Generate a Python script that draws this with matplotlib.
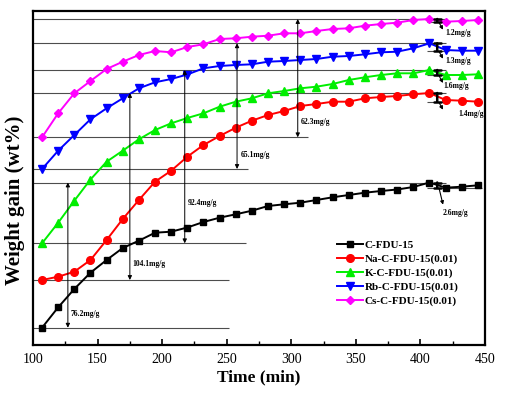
import matplotlib
matplotlib.use("Agg")
import matplotlib.pyplot as plt
import numpy as np

# time axis (min) and weight gain curves (arbitrary units)
times = [107, 119.5, 132, 144.5, 157, 169.5, 182, 194.5, 207, 219.5, 232, 244.5, 257, 269.5,
         282, 294.5, 307, 319.5, 332, 344.5, 357, 369.5, 382, 394.5, 407, 419.5, 432, 444.5]

c_fdu = [17.3, 37.7, 56, 72.3, 85, 97, 104.3, 112.3, 113.3, 117.5, 123, 127.3, 130.7, 134.3,
         139, 140.7, 142.3, 145, 147.7, 150, 152.3, 154, 155.5, 158, 162.5, 157.3, 158.3, 159.7]
na_fdu = [65, 68.3, 73.3, 85, 105, 126, 145, 163.3, 174.3, 188.3, 200, 209, 217.3, 224.3,
          230, 234, 239, 241, 243.3, 243.3, 246.7, 248, 249, 250.7, 252, 245, 244.3, 243.3]
k_fdu = [101.7, 122.3, 144.3, 165.5, 183.3, 194.3, 205.7, 215, 221.7, 227, 231.7, 238.3, 243.3, 246.7,
         251.7, 254, 256.7, 258.3, 261, 265, 267.7, 270, 271.7, 271.7, 275, 270, 270, 270.7]
rb_fdu = [176, 194.3, 210, 225.7, 236.7, 246.7, 256.7, 262.7, 266, 270.5, 276.7, 279, 280, 280.7,
          283.3, 284, 285, 286, 288.3, 289, 290.7, 292.7, 293.3, 296.7, 301.7, 295, 294.3, 294.3]
cs_fdu = [207.7, 231.7, 251.7, 264, 276, 283.3, 290, 294, 292.7, 298, 300.7, 306, 306.7, 308.3,
          309.3, 311.7, 311.7, 314, 316, 316.7, 319.3, 321, 322.3, 325, 326, 323.3, 324, 325]

labels = ["C-FDU-15", "Na-C-FDU-15(0.01)", "K-C-FDU-15(0.01)", "Rb-C-FDU-15(0.01)", "Cs-C-FDU-15(0.01)"]
total_gain = ["76.2mg/g", "104.1mg/g", "92.4mg/g", "65.1mg/g", "62.3mg/g"]
end_loss = ["2.6mg/g", "1.4mg/g", "1.6mg/g", "1.3mg/g", "1.2mg/g"]

series = [c_fdu, na_fdu, k_fdu, rb_fdu, cs_fdu]
colors = ["black", "#ff0000", "#00ee00", "#0000ff", "#ff00ff"]
markers = ["s", "o", "^", "v", "D"]
msizes = [5, 5.5, 5.5, 5.5, 4.5]

# layout of the annotations (x in min)
arrow_x = [127, 175, 217.5, 258, 305]
start_line_end = [252, 252, 265, 266.5, 313]
label_pos = [(129, 31), (177, 81), (220, 142), (261, 190), (307.5, 223)]
small_label_pos = [(427, 132), (439, 231), (428, 259), (429, 284), (429, 312)]

plt.rcParams["font.family"] = ["Liberation Serif", "DejaVu Serif"]

fig = plt.figure(figsize=(5.05, 3.93), dpi=100)
ax = fig.add_axes([33 / 505, 48 / 393, 452 / 505, 334 / 393])

for vals, col, mk, ms, lab in zip(series, colors, markers, msizes, labels):
    ax.plot(times, vals, color=col, marker=mk, markersize=ms, lw=1.4, label=lab, zorder=3)

line_col = "0.3"
x_I = 413
for i, vals in enumerate(series):
    vals = np.array(vals)
    imax = int(np.argmax(vals))
    vmax = vals[imax]
    vlow = vals[imax:].min()
    v0 = vals[0]
    # reference lines
    ax.hlines(vmax, 100, 420, color=line_col, lw=0.8, zorder=1)
    ax.hlines(v0, 100, start_line_end[i], color=line_col, lw=0.8, zorder=1)
    ax.hlines(vlow, 405, 448 if i == 0 else 422, color=line_col, lw=0.8, zorder=1)
    # total gain arrow
    ax.annotate("", xy=(arrow_x[i], vmax), xytext=(arrow_x[i], v0),
                arrowprops=dict(arrowstyle="<|-|>", lw=0.7, color="black",
                                mutation_scale=6, shrinkA=0, shrinkB=0), zorder=4)
    ax.text(label_pos[i][0], label_pos[i][1], total_gain[i], fontsize=5.5,
            fontweight="bold", ha="left", va="center")
    # small loss marker at the end
    ax.annotate("", xy=(x_I, vlow), xytext=(x_I, vmax),
                arrowprops=dict(arrowstyle="|-|,widthA=0.25,widthB=0.25", lw=1.8,
                                color="black", shrinkA=0, shrinkB=0), zorder=5)
    drop = 17 if i == 0 else 8
    ax.annotate("", xy=(x_I + 4.5, vlow - drop), xytext=(x_I + 1.5, vlow - 1),
                arrowprops=dict(arrowstyle="-|>", lw=0.8, color="black",
                                mutation_scale=5, shrinkA=0, shrinkB=0), zorder=5)
    ax.text(small_label_pos[i][0], small_label_pos[i][1], end_loss[i], fontsize=5.5,
            fontweight="bold", ha="center", va="center")

ax.set_xlim(100, 450)
ax.set_ylim(0, 334)
ax.set_xticks([100, 150, 200, 250, 300, 350, 400, 450])
ax.set_xticks([125, 175, 225, 275, 325, 375, 425], minor=True)
ax.tick_params(axis="x", direction="in", length=4, width=1.2, labelsize=10, pad=6)
ax.tick_params(axis="x", which="minor", direction="in", length=3, width=1.0)
ax.set_yticks([])
for sp in ax.spines.values():
    sp.set_linewidth(1.6)

ax.set_xlabel("Time (min)", fontsize=12.5, fontweight="bold", labelpad=2)
ax.set_ylabel("Weight gain (wt%)", fontsize=15, fontweight="bold")
ax.yaxis.set_label_coords(-0.018, 0.434)

leg = ax.legend(loc="upper left", bbox_to_anchor=(0.662, 0.327), frameon=False,
                prop={"weight": "bold", "size": 8}, handlelength=2.4,
                handletextpad=0.1, labelspacing=0.36, borderaxespad=0)

fig.savefig("out.png", dpi=100)
